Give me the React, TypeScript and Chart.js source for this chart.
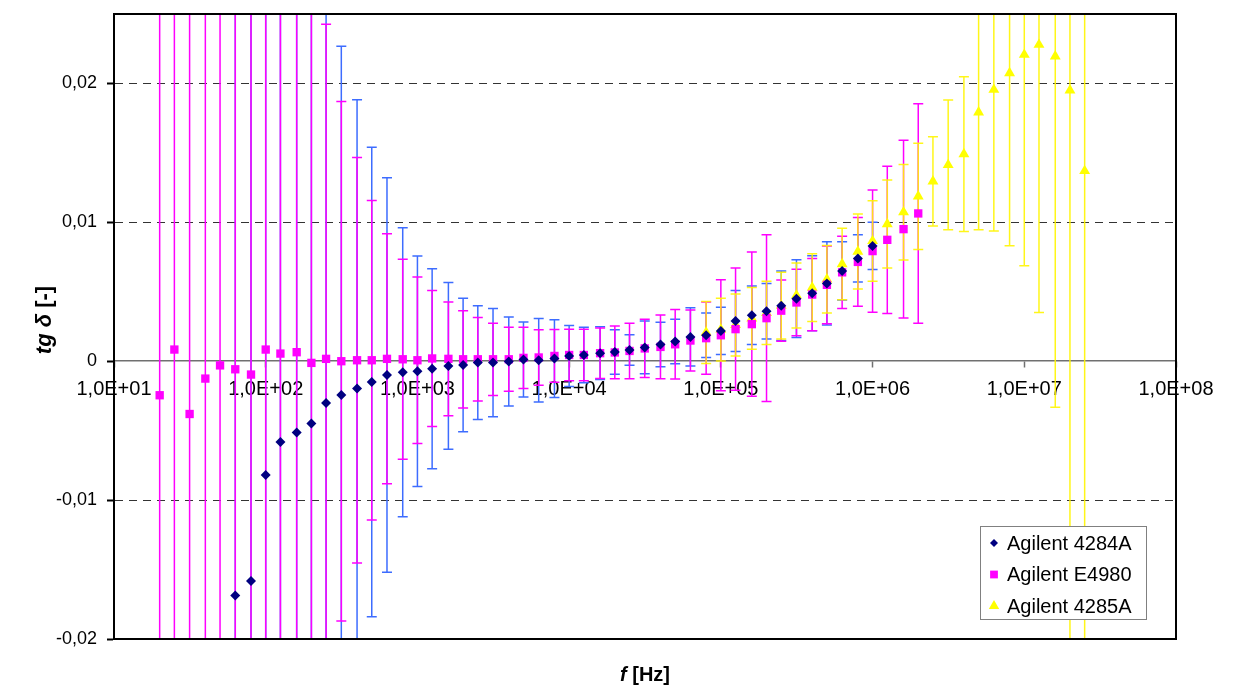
import React, { useEffect, useRef } from 'react';
import { Chart, registerables } from 'chart.js';

Chart.register(...registerables);

// Frequencies (Hz), 10 points per decade
const FREQ_HZ = [
  20, 25, 31.5, 40, 50, 63, 80,
  100, 125, 160, 200, 250, 315, 400, 500, 630, 800,
  1000, 1250, 1600, 2000, 2500, 3150, 4000, 5000, 6300, 8000,
  10000, 12500, 16000, 20000, 25000, 31500, 40000, 50000, 63000, 80000,
  100000, 125000, 160000, 200000, 250000, 315000, 400000, 500000, 630000, 800000,
  1000000, 1250000, 1600000, 2000000, 2500000, 3150000, 4000000, 5000000, 6300000, 8000000,
  10000000, 12500000, 16000000, 20000000, 25000000,
];

// Agilent 4284A : 63 Hz .. 1 MHz
const FREQ_4284A = FREQ_HZ.slice(5, 48);
const TGD_4284A = [
  -0.01686, -0.01583,
  -0.00819, -0.00581, -0.00514, -0.00449, -0.0030, -0.00243, -0.00197, -0.0015, -0.00099, -0.00079,
  -0.00072, -0.00055, -0.00034, -0.00027, -0.0001, -0.0001, -0.00002, 0.00012, 0.00007, 0.00019,
  0.00038, 0.00045, 0.00058, 0.00067, 0.00081, 0.00099, 0.0012, 0.00142, 0.00175, 0.00187,
  0.00218, 0.0029, 0.00331, 0.0036, 0.004, 0.0045, 0.0049, 0.0056, 0.0065, 0.0074,
  0.0083,
];
const ERR_4284A = [
  0.2, 0.17,
  0.14, 0.11, 0.09, 0.07, 0.045, 0.0251, 0.0208, 0.0169, 0.0142, 0.0104,
  0.0083, 0.0072, 0.006, 0.0048, 0.0041, 0.0039, 0.0032, 0.0027, 0.003, 0.0028,
  0.0022, 0.002, 0.0019, 0.0016, 0.0011, 0.0019, 0.0016, 0.0016, 0.0021, 0.0016,
  0.0017, 0.0022, 0.0021, 0.002, 0.0025, 0.0028, 0.0027, 0.003, 0.0021, 0.0017,
  0.0017,
];

// Agilent E4980 : 20 Hz .. 2 MHz
const FREQ_E4980 = FREQ_HZ.slice(0, 51);
const TGD_E4980 = [
  -0.00245, 0.00084, -0.0038, -0.00125, -0.0003, -0.00058, -0.00096,
  0.00084, 0.00055, 0.00065, -0.00012, 0.00017, 0.0, 0.00007, 0.00007, 0.00017, 0.00014,
  0.00007, 0.0002, 0.00017, 0.00014, 0.00014, 0.00014, 0.00014, 0.00024, 0.00027, 0.00038,
  0.00045, 0.00045, 0.00058, 0.00063, 0.00074, 0.00092, 0.00103, 0.00122, 0.00149, 0.00166,
  0.00187, 0.00231, 0.00267, 0.0031, 0.00364, 0.00423, 0.0048, 0.0055, 0.0064, 0.00715,
  0.00793, 0.00874, 0.00951, 0.01064,
];
const ERR_E4980 = [
  0.2, 0.18, 0.15, 0.12, 0.1, 0.085, 0.07,
  0.058, 0.048, 0.04, 0.032, 0.0241, 0.0187, 0.0146, 0.0115, 0.009, 0.0072,
  0.006, 0.0049, 0.0041, 0.0035, 0.003, 0.0026, 0.0023, 0.0022, 0.002, 0.0019,
  0.00185, 0.00185, 0.00182, 0.0019, 0.002, 0.0021, 0.0023, 0.0025, 0.0022, 0.0026,
  0.004, 0.0044, 0.0052, 0.006, 0.0022, 0.0024, 0.0026, 0.0028, 0.0026, 0.0032,
  0.0044, 0.0053, 0.0064, 0.0079,
];

// Agilent 4285A : 80 kHz .. 25 MHz
const FREQ_4285A = FREQ_HZ.slice(36, 62);
const TGD_4285A = [
  0.00207,
  0.00228, 0.00261, 0.00308, 0.00348, 0.004, 0.00474, 0.0053, 0.0059, 0.007, 0.0079,
  0.00866, 0.00988, 0.01073, 0.01187, 0.01295, 0.01413, 0.01491, 0.01792, 0.01955, 0.02075,
  0.02207, 0.02279, 0.02195, 0.0195, 0.0137,
];
const ERR_4285A = [
  0.00223,
  0.00226, 0.00223, 0.00222, 0.00228, 0.0024, 0.00234, 0.00244, 0.00243, 0.00257, 0.0027,
  0.0029, 0.00316, 0.00344, 0.00382, 0.00322, 0.00467, 0.00557, 0.00846, 0.01018, 0.01244,
  0.0152, 0.01928, 0.02527, 0.045, 0.05,
];

const SERIES_NAMES = ['Agilent 4284A', 'Agilent E4980', 'Agilent 4285A'];
const X_TICKS = [1e1, 1e2, 1e3, 1e4, 1e5, 1e6, 1e7, 1e8];
const Y_TICKS = [-0.02, -0.01, 0, 0.01, 0.02];
const X_TITLE_PARTS = [
  { text: 'f', italic: true },
  { text: ' [Hz]', italic: false },
];
const Y_TITLE_PARTS = [
  { text: 'tg', italic: true },
  { text: ' δ', italic: true },
  { text: ' [-]', italic: false },
];

const FONT = '"Liberation Sans", Arial, sans-serif';

const toPoints = (xs: number[], ys: number[]) => xs.map((x, i) => ({ x, y: ys[i] }));

function drawMarker(ctx: CanvasRenderingContext2D, style: string, x: number, y: number, r: number, color: string) {
  ctx.save();
  ctx.fillStyle = color;
  ctx.beginPath();
  if (style === 'rectRot') {
    ctx.moveTo(x - r, y);
    ctx.lineTo(x, y - r);
    ctx.lineTo(x + r, y);
    ctx.lineTo(x, y + r);
    ctx.closePath();
  } else if (style === 'rect') {
    const s = Math.SQRT1_2 * r;
    ctx.rect(x - s, y - s, 2 * s, 2 * s);
  } else {
    const h = Math.sin(Math.PI / 3) * r;
    ctx.moveTo(x, y - r);
    ctx.lineTo(x + h, y + r / 2);
    ctx.lineTo(x - h, y + r / 2);
    ctx.closePath();
  }
  ctx.fill();
  ctx.restore();
}

function drawParts(ctx: CanvasRenderingContext2D, parts: { text: string; italic: boolean }[], cx: number, cy: number, size: number) {
  const fontOf = (it: boolean) => `${it ? 'italic ' : ''}bold ${size}px ${FONT}`;
  const widths = parts.map((p) => {
    ctx.font = fontOf(p.italic);
    return ctx.measureText(p.text).width;
  });
  const total = widths.reduce((a, b) => a + b, 0);
  let x = cx - total / 2;
  parts.forEach((p, i) => {
    ctx.font = fontOf(p.italic);
    ctx.fillText(p.text, x, cy);
    x += widths[i];
  });
}

const errorBarPlugin = {
  id: 'errorBars',
  beforeDatasetsDraw(chart: any) {
    const { ctx, chartArea, scales } = chart;
    const xs = scales.x;
    const ys = scales.y;
    ctx.save();
    ctx.beginPath();
    ctx.rect(chartArea.left, chartArea.top, chartArea.right - chartArea.left, chartArea.bottom - chartArea.top);
    ctx.clip();
    chart.data.datasets.forEach((ds: any) => {
      ctx.strokeStyle = ds.errorColor;
      ctx.lineWidth = 1.5;
      ds.data.forEach((p: any, i: number) => {
        const e = ds.errors[i];
        const px = xs.getPixelForValue(p.x);
        const yt = ys.getPixelForValue(p.y + e);
        const yb = ys.getPixelForValue(p.y - e);
        ctx.beginPath();
        ctx.moveTo(px, yt);
        ctx.lineTo(px, yb);
        ctx.moveTo(px - 5, yt);
        ctx.lineTo(px + 5, yt);
        ctx.moveTo(px - 5, yb);
        ctx.lineTo(px + 5, yb);
        ctx.stroke();
      });
    });
    ctx.restore();
  },
};

const framePlugin = {
  id: 'frameAndTitles',
  afterDraw(chart: any) {
    const { ctx, chartArea } = chart;
    const { left, top, right, bottom } = chartArea;
    ctx.save();
    ctx.strokeStyle = '#000';
    ctx.lineWidth = 2;
    ctx.strokeRect(left, top, right - left, bottom - top);

    ctx.fillStyle = '#000';
    ctx.textBaseline = 'middle';
    ctx.textAlign = 'left';
    // X title
    drawParts(ctx, X_TITLE_PARTS, (left + right) / 2, 675, 20);

    // Y title (rotated)
    ctx.save();
    ctx.translate(45, 320);
    ctx.rotate(-Math.PI / 2);
    drawParts(ctx, Y_TITLE_PARTS, 0, 0, 22);
    ctx.restore();

    // Legend
    const bw = 166;
    const bh = 93;
    const bx = right - 30 - bw;
    const by = bottom - 20 - bh;
    ctx.fillStyle = '#fff';
    ctx.fillRect(bx, by, bw, bh);
    ctx.strokeStyle = '#808080';
    ctx.lineWidth = 1;
    ctx.strokeRect(bx + 0.5, by + 0.5, bw, bh);
    ctx.font = `20px ${FONT}`;
    ctx.textBaseline = 'middle';
    ctx.textAlign = 'left';
    chart.data.datasets.forEach((ds: any, i: number) => {
      const cy = by + 17 + i * 31.5;
      drawMarker(ctx, ds.pointStyle, bx + 14, cy, ds.legendRadius, ds.backgroundColor);
      ctx.fillStyle = '#000';
      ctx.fillText(ds.label, bx + 27, cy + 1);
    });
    ctx.restore();
  },
};

export default function App() {
  const ref = useRef<HTMLCanvasElement | null>(null);

  useEffect(() => {
    document.body.style.margin = '0';
    const canvas = ref.current;
    if (!canvas) return;
    const chart = new Chart(canvas, {
      type: 'scatter',
      data: {
        datasets: [
          {
            label: SERIES_NAMES[0],
            data: toPoints(FREQ_4284A, TGD_4284A),
            errors: ERR_4284A,
            errorColor: '#3d6cff',
            pointStyle: 'rectRot',
            pointRadius: 5,
            legendRadius: 4,
            backgroundColor: '#000080',
            borderWidth: 0,
          } as any,
          {
            label: SERIES_NAMES[1],
            data: toPoints(FREQ_E4980, TGD_E4980),
            errors: ERR_E4980,
            errorColor: '#ff00ff',
            pointStyle: 'rect',
            pointRadius: 5.9,
            legendRadius: 5.5,
            backgroundColor: '#ff00ff',
            borderWidth: 0,
          } as any,
          {
            label: SERIES_NAMES[2],
            data: toPoints(FREQ_4285A, TGD_4285A),
            errors: ERR_4285A,
            errorColor: 'rgba(255,245,0,0.9)',
            pointStyle: 'triangle',
            pointRadius: 6.3,
            legendRadius: 6,
            backgroundColor: '#ffff00',
            borderWidth: 0,
          } as any,
        ],
      },
      options: {
        responsive: false,
        animation: false,
        layout: { padding: { left: 0, top: 14, right: 59, bottom: 50 } },
        plugins: {
          legend: { display: false },
          tooltip: { enabled: false },
        },
        scales: {
          x: {
            type: 'logarithmic',
            min: 10,
            max: 1e8,
            position: { y: 0 } as any,
            afterBuildTicks: (s: any) => {
              s.ticks = X_TICKS.map((v) => ({ value: v }));
            },
            afterFit: (s: any) => {
              s.paddingLeft = 0;
              s.paddingRight = 0;
              s.paddingTop = 0;
              s.paddingBottom = 0;
            },
            ticks: {
              autoSkip: false,
              maxRotation: 0,
              minRotation: 0,
              padding: 10,
              color: '#000',
              font: { family: FONT, size: 20 },
              callback: (v: any) => '1,0E+' + String(Math.round(Math.log10(Number(v)))).padStart(2, '0'),
            },
            grid: {
              drawOnChartArea: false,
              drawTicks: true,
              tickLength: 6,
              tickColor: '#707070',
              tickWidth: 1.5,
            },
            border: { display: true, color: '#707070', width: 1.5 },
          },
          y: {
            type: 'linear',
            min: -0.02,
            max: 0.025,
            afterFit: (s: any) => {
              s.width = 114;
              s.paddingTop = 0;
              s.paddingBottom = 0;
              s.paddingLeft = 0;
              s.paddingRight = 0;
            },
            afterBuildTicks: (s: any) => {
              s.ticks = Y_TICKS.map((v) => ({ value: v }));
            },
            ticks: {
              padding: 10,
              color: '#000',
              font: { family: FONT, size: 18 },
              callback: (v: any) => (Number(v) === 0 ? '0' : Number(v).toFixed(2).replace('.', ',')),
            },
            grid: {
              color: (c: any) => (c.tick && Math.abs(c.tick.value) < 1e-12 ? 'rgba(0,0,0,0)' : '#333'),
              lineWidth: 1,
              tickLength: 7,
              tickColor: '#000',
              tickWidth: 2,
            },
            border: { display: true, color: '#000', width: 2, dash: [8, 6] },
          },
        },
      } as any,
      plugins: [errorBarPlugin, framePlugin],
    });
    return () => chart.destroy();
  }, []);

  return (
    <div style={{ width: 1235, height: 689, background: '#fff' }}>
      <canvas ref={ref} width={1235} height={689} style={{ display: 'block' }} />
    </div>
  );
}
